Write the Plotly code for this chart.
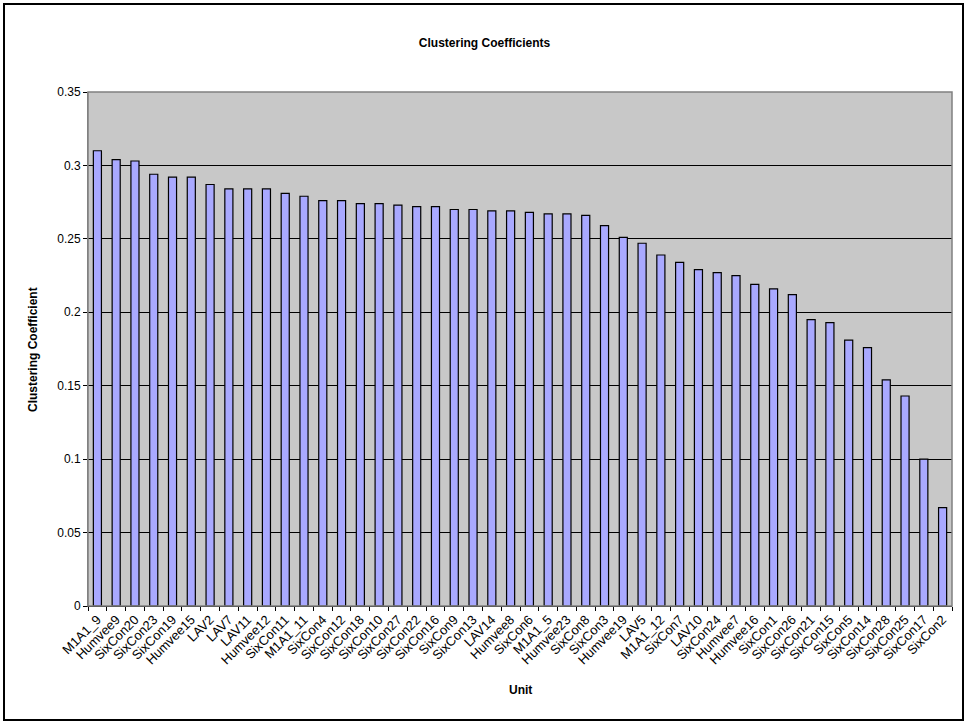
import plotly.graph_objects as go

units = [
    "M1A1_9", "Humvee9", "SixCon20", "SixCon23", "SixCon19", "Humvee15", "LAV2", "LAV7",
    "LAV11", "Humvee12", "SixCon11", "M1A1_11", "SixCon4", "SixCon12", "SixCon18", "SixCon10",
    "SixCon27", "SixCon22", "SixCon16", "SixCon9", "SixCon13", "LAV14", "Humvee8", "SixCon6",
    "M1A1_5", "Humvee23", "SixCon8", "SixCon3", "Humvee19", "LAV5", "M1A1_12", "SixCon7",
    "LAV10", "SixCon24", "Humvee7", "Humvee16", "SixCon1", "SixCon26", "SixCon21", "SixCon15",
    "SixCon5", "SixCon14", "SixCon28", "SixCon25", "SixCon17", "SixCon2",
]
clustering = [
    0.310, 0.304, 0.303, 0.294, 0.292, 0.292, 0.287, 0.284,
    0.284, 0.284, 0.281, 0.279, 0.276, 0.276, 0.274, 0.274,
    0.273, 0.272, 0.272, 0.270, 0.270, 0.269, 0.269, 0.268,
    0.267, 0.267, 0.266, 0.259, 0.251, 0.247, 0.239, 0.234,
    0.229, 0.227, 0.225, 0.219, 0.216, 0.212, 0.195, 0.193,
    0.181, 0.176, 0.154, 0.143, 0.100, 0.067,
]
y_ticks = [0, 0.05, 0.1, 0.15, 0.2, 0.25, 0.3, 0.35]
y_tick_text = ["0", "0.05", "0.1", "0.15", "0.2", "0.25", "0.3", "0.35"]

FONT = "Arial, Liberation Sans, sans-serif"

fig = go.Figure(
    go.Bar(
        x=units,
        y=clustering,
        marker=dict(color="#A9A9FF", line=dict(color="#000000", width=1.2)),
        hovertemplate="%{x}: %{y}<extra></extra>",
    )
)

fig.update_layout(
    width=969,
    height=725,
    margin=dict(l=88, r=17, t=92, b=119),
    paper_bgcolor="white",
    plot_bgcolor="#C8C8C8",
    bargap=0.57,
    showlegend=False,
    font=dict(family=FONT, size=12, color="#000000"),
    title=dict(
        text="<b>Clustering Coefficients</b>",
        x=0.5,
        xanchor="center",
        y=1 - 43 / 725,
        yanchor="middle",
        yref="container",
        font=dict(family=FONT, size=12, color="#000000"),
    ),
)

fig.update_xaxes(
    type="category",
    tickangle=-45,
    tickfont=dict(family=FONT, size=13, color="#000000"),
    ticks="outside",
    tickson="boundaries",
    ticklen=4,
    tickcolor="#000000",
    showline=True,
    linecolor="#000000",
    linewidth=1,
    showgrid=False,
    range=[-0.5, len(units) - 0.5],
)

fig.update_yaxes(
    range=[0, 0.35],
    tickvals=y_ticks,
    ticktext=y_tick_text,
    tickfont=dict(family=FONT, size=12, color="#000000"),
    ticks="outside",
    ticklen=4,
    tickcolor="#000000",
    showline=True,
    linecolor="#808080",
    linewidth=1,
    showgrid=True,
    gridcolor="#000000",
    gridwidth=1,
    zeroline=False,
)

# Gray border around the plotting area
fig.add_shape(
    type="rect", xref="paper", yref="paper", x0=0, x1=1, y0=0, y1=1,
    line=dict(color="#808080", width=1.5), fillcolor="rgba(0,0,0,0)", layer="above",
)
# Black frame around the whole chart
fig.add_shape(
    type="rect", xref="paper", yref="paper",
    x0=(4 - 88) / 864, x1=(963 - 88) / 864,
    y0=(606 - 720) / 514, y1=(606 - 4) / 514,
    line=dict(color="#000000", width=2), fillcolor="rgba(0,0,0,0)",
)

fig.add_annotation(
    text="<b>Unit</b>", xref="paper", yref="paper",
    x=0.5, y=(606 - 690) / 514, xanchor="center", yanchor="middle",
    showarrow=False, font=dict(family=FONT, size=12, color="#000000"),
)
fig.add_annotation(
    text="<b>Clustering Coefficient</b>", xref="paper", yref="paper",
    x=(33 - 88) / 864, y=0.5, xanchor="center", yanchor="middle",
    textangle=-90, showarrow=False, font=dict(family=FONT, size=12, color="#000000"),
)

fig.write_html("out.html")
